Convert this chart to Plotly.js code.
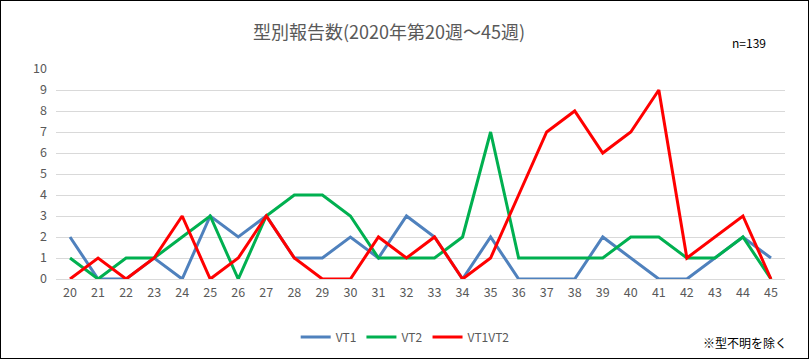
<!DOCTYPE html>
<html>
<head>
<meta charset="utf-8">
<script src="https://cdn.plot.ly/plotly-3.0.1.min.js"></script>
<style>
html,body{margin:0;padding:0;background:#fff;}
#wrap{position:relative;width:812px;height:364px;}
#chart{width:812px;height:364px;}
#frame{position:absolute;left:0;top:0;width:807px;height:357px;border:1px solid #000;pointer-events:none;}
</style>
</head>
<body>
<div id="wrap"><div id="chart"></div><div id="frame"></div></div>
<script>
const weeks = ["20","21","22","23","24","25","26","27","28","29","30","31","32","33","34","35","36","37","38","39","40","41","42","43","44","45"];
const vt1 = [2,0,0,1,0,3,2,3,1,1,2,1,3,2,0,2,0,0,0,2,1,0,0,1,2,1];
const vt2 = [1,0,1,1,2,3,0,3,4,4,3,1,1,1,2,7,1,1,1,1,2,2,1,1,2,0];
const vt1vt2 = [0,1,0,1,3,0,1,3,1,0,0,2,1,2,0,1,4,7,8,6,7,9,1,2,3,0];
const seriesNames = ["VT1","VT2","VT1VT2"];
const yTicks = [0,1,2,3,4,5,6,7,8,9,10];

const F = '"Noto Sans CJK JP", "Noto Sans", sans-serif';
const grey = '#595959';

const traces = [
  {x: weeks, y: vt1, name: seriesNames[0], type: 'scatter', mode: 'lines', line: {color: '#4F81BD', width: 3}},
  {x: weeks, y: vt2, name: seriesNames[1], type: 'scatter', mode: 'lines', line: {color: '#00B050', width: 3}},
  {x: weeks, y: vt1vt2, name: seriesNames[2], type: 'scatter', mode: 'lines', line: {color: '#FF0000', width: 3}}
];

const layout = {
  width: 812, height: 364,
  margin: {l: 56, r: 27, t: 69, b: 85},
  paper_bgcolor: '#fff', plot_bgcolor: '#fff',
  font: {family: F, color: grey, size: 12},
  title: {text: '型別報告数(2020年第20週～45週)', font: {family: F, size: 18, color: grey},
          x: 0.479, xanchor: 'center', xref: 'container', y: 0.91, yanchor: 'middle', yref: 'container'},
  xaxis: {type: 'category', range: [-0.5, weeks.length - 0.5], showgrid: false, zeroline: false, showline: false, ticks: '',
          tickfont: {family: F, size: 12.5, color: grey}, ticklabelstandoff: 4, fixedrange: true},
  yaxis: {range: [0, 10], tickvals: yTicks, showgrid: true, gridcolor: '#D9D9D9', gridwidth: 1,
          zeroline: true, zerolinecolor: '#D9D9D9', zerolinewidth: 1, showline: false, ticks: '',
          tickfont: {family: F, size: 12.5, color: grey}, ticklabelstandoff: 8, fixedrange: true},
  showlegend: true,
  legend: {orientation: 'h', x: 0.479, xanchor: 'center', y: -0.276, yanchor: 'middle',
           font: {family: F, size: 12, color: grey}, itemwidth: 30},
  annotations: [
    {text: 'n=139', xref: 'paper', yref: 'paper', x: 0.951, y: 1.124, showarrow: false,
     xanchor: 'center', yanchor: 'middle', font: {family: F, size: 12, color: '#000'}},
    {text: '※型不明を除く', xref: 'paper', yref: 'paper', x: 0.945, y: -0.3, showarrow: false,
     xanchor: 'center', yanchor: 'middle', font: {family: F, size: 12, color: '#000'}}
  ]
};

Plotly.newPlot('chart', traces, layout, {displayModeBar: false, staticPlot: true});
</script>
</body>
</html>
